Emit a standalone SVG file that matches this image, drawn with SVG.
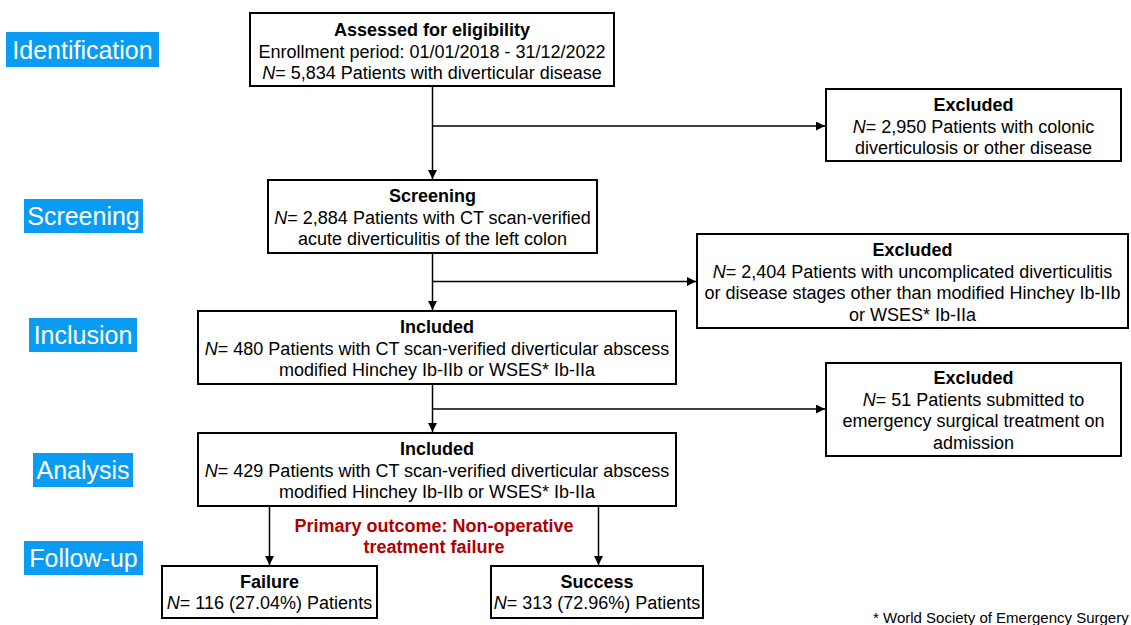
<svg xmlns="http://www.w3.org/2000/svg" width="1131" height="625" viewBox="0 0 1131 625">
<style>
.box{fill:#fff;stroke:#000;stroke-width:2}
.t{font-family:"Liberation Sans",Arial,sans-serif;font-size:18px;fill:#000;text-anchor:middle}
.b{font-weight:bold}
.i{font-style:italic}
.lab{fill:#0a9cf2}
.lt{font-family:"Liberation Sans",Arial,sans-serif;font-size:25px;fill:#fff;text-anchor:middle}
.red{fill:#b00000;font-weight:bold}
.c{fill:none;stroke:#000;stroke-width:1.5}
.fn{font-family:"Liberation Sans",Arial,sans-serif;font-size:15px;fill:#000}
</style>
<defs>
<marker id="ah" viewBox="0 0 10 10" refX="10" refY="5" markerWidth="6" markerHeight="6" markerUnits="strokeWidth" orient="auto">
<path d="M0,0 L10,5 L0,10 z" fill="#000"/>
</marker>
</defs>
<rect width="1131" height="625" fill="#fff"/>

<g id="stage-labels">
<g id="lab-identification"><rect class="lab" x="6" y="32" width="153" height="35"/><text class="lt" x="82.5" y="58.5">Identification</text></g>
<g id="lab-screening"><rect class="lab" x="24" y="199" width="119" height="34"/><text class="lt" x="83.5" y="225">Screening</text></g>
<g id="lab-inclusion"><rect class="lab" x="29" y="318" width="108" height="34"/><text class="lt" x="83" y="344">Inclusion</text></g>
<g id="lab-analysis"><rect class="lab" x="33" y="453" width="100" height="34"/><text class="lt" x="83" y="479">Analysis</text></g>
<g id="lab-followup"><rect class="lab" x="24" y="541" width="119" height="34"/><text class="lt" x="83.5" y="567">Follow-up</text></g>
</g>

<g id="connectors">
<line class="c" x1="432.5" y1="86" x2="432.5" y2="179" marker-end="url(#ah)"/>
<line class="c" x1="432.5" y1="126" x2="825" y2="126" marker-end="url(#ah)"/>
<line class="c" x1="432.5" y1="253" x2="432.5" y2="310" marker-end="url(#ah)"/>
<line class="c" x1="432.5" y1="281.5" x2="696" y2="281.5" marker-end="url(#ah)"/>
<line class="c" x1="432.5" y1="384" x2="432.5" y2="432" marker-end="url(#ah)"/>
<line class="c" x1="432.5" y1="409" x2="825" y2="409" marker-end="url(#ah)"/>
<line class="c" x1="269.5" y1="506" x2="269.5" y2="565" marker-end="url(#ah)"/>
<line class="c" x1="598.5" y1="506" x2="598.5" y2="565" marker-end="url(#ah)"/>
</g>

<g id="assessed">
<rect class="box" x="250" y="13" width="364" height="73"/>
<text class="t b" x="432" y="36">Assessed for eligibility</text>
<text class="t" x="432" y="57.5">Enrollment period: 01/01/2018 - 31/12/2022</text>
<text class="t" x="432" y="79"><tspan class="i">N</tspan>= 5,834 Patients with diverticular disease</text>
</g>

<g id="excluded1">
<rect class="box" x="826" y="89" width="295" height="72"/>
<text class="t b" x="973.5" y="111">Excluded</text>
<text class="t" x="973.5" y="132.5"><tspan class="i">N</tspan>= 2,950 Patients with colonic</text>
<text class="t" x="973.5" y="154">diverticulosis or other disease</text>
</g>

<g id="screening">
<rect class="box" x="268" y="180" width="329" height="73"/>
<text class="t b" x="432.5" y="202">Screening</text>
<text class="t" x="432.5" y="223.5"><tspan class="i">N</tspan>= 2,884 Patients with CT scan-verified</text>
<text class="t" x="432.5" y="245">acute diverticulitis of the left colon</text>
</g>

<g id="excluded2">
<rect class="box" x="697" y="234" width="431" height="94"/>
<text class="t b" x="912.5" y="256">Excluded</text>
<text class="t" x="912.5" y="277.5"><tspan class="i">N</tspan>= 2,404 Patients with uncomplicated diverticulitis</text>
<text class="t" x="912.5" y="299">or disease stages other than modified Hinchey Ib-IIb</text>
<text class="t" x="912.5" y="320.5">or WSES* Ib-IIa</text>
</g>

<g id="included1">
<rect class="box" x="198" y="311" width="478" height="73"/>
<text class="t b" x="437" y="333">Included</text>
<text class="t" x="437" y="354.5"><tspan class="i">N</tspan>= 480 Patients with CT scan-verified diverticular abscess</text>
<text class="t" x="437" y="376">modified Hinchey Ib-IIb or WSES* Ib-IIa</text>
</g>

<g id="excluded3">
<rect class="box" x="826" y="363" width="295" height="93"/>
<text class="t b" x="973.5" y="384">Excluded</text>
<text class="t" x="973.5" y="405.5"><tspan class="i">N</tspan>= 51 Patients submitted to</text>
<text class="t" x="973.5" y="427">emergency surgical treatment on</text>
<text class="t" x="973.5" y="448.5">admission</text>
</g>

<g id="included2">
<rect class="box" x="198" y="433" width="478" height="73"/>
<text class="t b" x="437" y="455">Included</text>
<text class="t" x="437" y="476.5"><tspan class="i">N</tspan>= 429 Patients with CT scan-verified diverticular abscess</text>
<text class="t" x="437" y="498">modified Hinchey Ib-IIb or WSES* Ib-IIa</text>
</g>

<g id="outcome-label">
<text class="t red" x="434" y="531.5">Primary outcome: Non-operative</text>
<text class="t red" x="434" y="553">treatment failure</text>
</g>

<g id="failure">
<rect class="box" x="162" y="566" width="215" height="52"/>
<text class="t b" x="269.5" y="587.5">Failure</text>
<text class="t" x="269.5" y="609"><tspan class="i">N</tspan>= 116 (27.04%) Patients</text>
</g>

<g id="success">
<rect class="box" x="491" y="566" width="212" height="52"/>
<text class="t b" x="597" y="587.5">Success</text>
<text class="t" x="597" y="609"><tspan class="i">N</tspan>= 313 (72.96%) Patients</text>
</g>

<text class="fn" x="873" y="623">* World Society of Emergency Surgery</text>
</svg>
